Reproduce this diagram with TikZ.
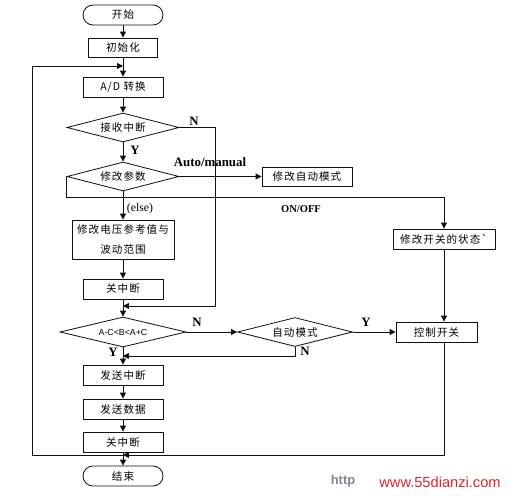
\documentclass[tikz,border=0pt]{standalone}
\usepackage{fontspec}
\setmainfont{Liberation Serif}
\setsansfont{Liberation Sans}
\newfontfamily\cjk[LetterSpace=10]{Noto Sans CJK SC}
\usetikzlibrary{shapes.geometric, arrows.meta, positioning}
\definecolor{linedark}{HTML}{111111}
\definecolor{markred}{HTML}{D8262B}
\definecolor{markgray}{HTML}{7E848F}

\begin{document}
\begin{tikzpicture}[
  x=0.03cm, y=-0.03cm,
  >={Triangle[length=5pt, width=5pt]},
  every node/.style={text=black},
  procbox/.style={
    rectangle, draw=linedark, line width=0.7pt,
    minimum width=2.4cm, minimum height=0.6cm,
    inner sep=1pt, align=center,
    font=\cjk\fontsize{9}{17}\selectfont
  },
  termbox/.style={
    procbox, rounded corners=0.3cm
  },
  decision/.style={
    diamond, aspect=4, draw=linedark, line width=0.7pt,
    inner sep=0pt,
    minimum width=3.36cm, minimum height=0.87cm,
    font=\cjk\fontsize{9}{11}\selectfont
  },
  flowlabel/.style={
    font=\bfseries\fontsize{11}{13}\selectfont
  },
  connector/.style={
    ->, line width=0.7pt, color=linedark
  }
]

\useasboundingbox (0,0) rectangle (511,495);

% ── Main column ───────────────────────────────────────────────────────────
\node[termbox] (start) at (123,15) {开始};
\node[procbox, minimum width=2.07cm, minimum height=0.57cm]
  (init) at (123,47.5) {初始化};
\node[procbox] (adconv) at (123,87) {A/D 转换};
\node[decision] (recv) at (123,127.5) {接收中断};
\node[decision] (param) at (123,176.5) {修改参数};
\node[procbox, minimum width=3.06cm, minimum height=1.17cm]
  (volt) at (123,239.5) {修改电压参考值与\\波动范围};
\node[procbox] (intoff) at (123,289) {关中断};
\node[decision, minimum width=3.78cm, minimum height=0.9cm,
      font=\sffamily\fontsize{7.5}{9}\selectfont]
  (range) at (123,332) {A-C<B<A+C};
\node[procbox] (sendint) at (123,375) {发送中断};
\node[procbox] (senddata) at (123,409) {发送数据};
\node[procbox] (intoff2) at (123,442) {关中断};
\node[termbox] (finish) at (123,476) {结束};

% ── Right-hand branches ───────────────────────────────────────────────────
\node[procbox, minimum width=2.7cm, minimum height=0.57cm]
  (automode) at (307,176.5) {修改自动模式};
\node[procbox, minimum width=3.06cm]
  (switch) at (444,239) {修改开关的状态`};
\node[decision, minimum width=3.45cm]
  (auto) at (295,332) {自动模式};
\node[procbox, minimum width=2.43cm] (ctrl) at (436.5,332) {控制开关};

% ── Join points ───────────────────────────────────────────────────────────
\coordinate (loopjoin) at (123,66);
\coordinate (looptop) at (32,66);
\coordinate (loopleft) at (32,455);
\coordinate (nbend) at (215,306);
\coordinate (nojoin) at (123,306);
\coordinate (onoffline) at (0,197);
\coordinate (autojoin) at (123,356);
\coordinate (endjoin) at (123,455);

% ── Arrows down the main column ───────────────────────────────────────────
\draw[connector] (start) -- (init);
\draw[connector] (init) -- (adconv);
\draw[connector] (adconv) -- (recv);
\draw[connector] (recv) -- (param);
\draw[connector] (param) -- (volt);
\draw[connector] (volt) -- (intoff);
\draw[connector] (intoff) -- (range);
\draw[connector] (range) -- (sendint);
\draw[connector] (sendint) -- (senddata);
\draw[connector] (senddata) -- (intoff2);
\draw[connector] (intoff2) -- (finish);

% ── Side branches ─────────────────────────────────────────────────────────
\draw[connector] (recv.east) -| (nbend) -- (nojoin);
\draw[connector] (param.east) -- (automode.west);
\draw[connector] (param.west) -- (param.west |- onoffline) -| (switch.north);
\draw[connector] (switch.south) -- (switch.south |- ctrl.north);
\draw[connector] (range.east) -- (auto.west);
\draw[connector] (auto.east) -- (ctrl.west);
\draw[connector] (auto.south) |- (autojoin);
\draw[connector] (switch |- ctrl.south) |- (endjoin);
\draw[connector] (endjoin) -- (loopleft) -- (looptop) -- (loopjoin);

% ── Branch labels ─────────────────────────────────────────────────────────
\node[flowlabel] (recvno) at (194,121) {N};
\node[flowlabel] (recvyes) at (135,150) {Y};
\node[flowlabel] (automan) at (210,162) {Auto/manual};
\node[flowlabel, font=\bfseries\fontsize{9}{11}\selectfont]
  (onoff) at (301,209) {ON/OFF};
\node[font=\fontsize{10}{12}\selectfont] (elselbl) at (140,209) {(else)};
\node[flowlabel] (rangeno) at (197,322) {N};
\node[flowlabel] (rangeyes) at (113,352) {Y};
\node[flowlabel] (autoyes) at (366,322) {Y};
\node[flowlabel] (autono) at (305,351) {N};

% ── Watermark ─────────────────────────────────────────────────────────────
\node[font=\sffamily\bfseries\fontsize{11}{13}\selectfont, text=markgray]
  (wmhttp) at (343,481) {http};
\node[font=\sffamily\fontsize{12.5}{14}\selectfont, text=markred]
  (wmsite) at (440,482) {www.55dianzi.com};

\end{tikzpicture}
\end{document}
